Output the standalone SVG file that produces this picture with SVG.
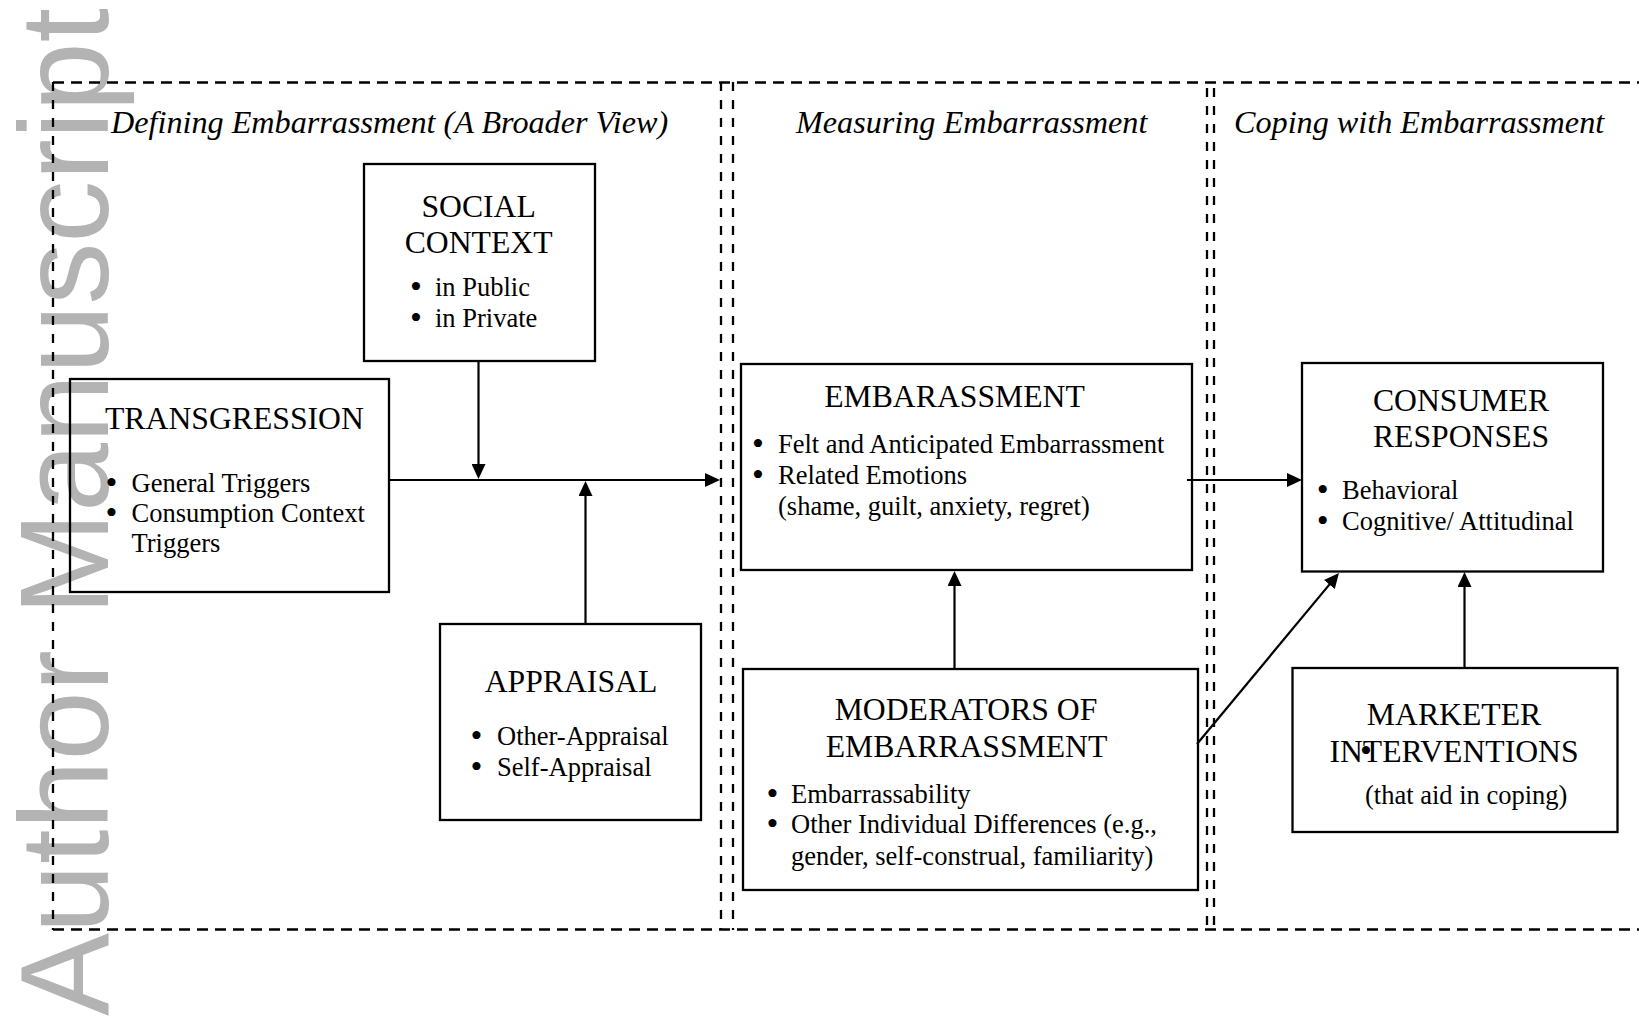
<svg xmlns="http://www.w3.org/2000/svg" width="1639" height="1017" viewBox="0 0 1639 1017">
<style>
  .wm { font-family: "Liberation Sans", Arial, sans-serif; font-size: 126px; fill: #b3b3b3; }
  .box { fill: none; stroke: #000; stroke-width: 2.3; }
  .hd { font-family: "Liberation Serif", "Times New Roman", serif; font-size: 31.7px; fill: #000; }
  .tt { font-family: "Liberation Serif", "Times New Roman", serif; font-size: 32.2px; font-style: italic; fill: #000; }
  .bt { font-family: "Liberation Serif", "Times New Roman", serif; font-size: 26.5px; fill: #000; }
  .bl { font-family: "Liberation Serif", "Times New Roman", serif; font-size: 34px; fill: #000; text-anchor: middle; }
  .c { text-anchor: middle; }
  .dh { stroke: #000; stroke-width: 2.3; stroke-dasharray: 11 7; fill: none; }
  .dv { stroke: #000; stroke-width: 2.3; stroke-dasharray: 9 9; fill: none; }
  .ln { stroke: #000; stroke-width: 2.2; fill: none; marker-end: url(#ah); }
</style>
<defs>
  <marker id="ah" markerUnits="userSpaceOnUse" markerWidth="15" markerHeight="14" refX="11" refY="7" orient="auto">
    <path d="M0,0 L15,7 L0,14 z" fill="#000"/>
  </marker>
</defs>
<rect width="1639" height="1017" fill="#fff"/>
<text class="wm" transform="translate(108,1016) rotate(-90)" textLength="1008" lengthAdjust="spacingAndGlyphs">Author Manuscript</text>

<g id="panels">
  <line class="dh" x1="53" y1="82.5" x2="1639" y2="82.5"/>
  <line class="dh" x1="53" y1="929.5" x2="1639" y2="929.5"/>
  <line class="dv" x1="53" y1="82" x2="53" y2="930"/>
  <line class="dv" x1="721" y1="82" x2="721" y2="930"/>
  <line class="dv" x1="733" y1="82" x2="733" y2="930"/>
  <line class="dv" x1="1207" y1="88" x2="1207" y2="930"/>
  <line class="dv" x1="1214" y1="88" x2="1214" y2="930"/>
  <text class="tt" x="111" y="133">Defining Embarrassment (A Broader View)</text>
  <text class="tt" x="796" y="133">Measuring Embarrassment</text>
  <text class="tt" x="1234" y="133">Coping with Embarrassment</text>
</g>

<g id="social-context">
  <rect class="box" x="364" y="164" width="231" height="197"/>
  <text class="hd c" x="478.6" y="217">SOCIAL</text>
  <text class="hd c" x="478.6" y="253">CONTEXT</text>
  <text class="bl" x="416" y="298">•</text>
  <text class="bt" x="435" y="296">in Public</text>
  <text class="bl" x="416" y="328.5">•</text>
  <text class="bt" x="435" y="326.5">in Private</text>
</g>

<g id="transgression">
  <rect class="box" x="70" y="379" width="319" height="213"/>
  <text class="hd" x="105" y="429">TRANSGRESSION</text>
  <text class="bl" x="111.4" y="493.7">•</text>
  <text class="bt" x="131.5" y="491.7">General Triggers</text>
  <text class="bl" x="111.4" y="523.7">•</text>
  <text class="bt" x="131.5" y="521.7">Consumption Context</text>
  <text class="bt" x="131.5" y="551.7">Triggers</text>
</g>

<g id="appraisal">
  <rect class="box" x="440" y="624" width="261" height="196"/>
  <text class="hd c" x="571" y="691.7">APPRAISAL</text>
  <text class="bl" x="476.5" y="747">•</text>
  <text class="bt" x="497" y="745">Other-Appraisal</text>
  <text class="bl" x="476.5" y="777.7">•</text>
  <text class="bt" x="497" y="775.7">Self-Appraisal</text>
</g>

<g id="embarassment">
  <rect class="box" x="741" y="364" width="451" height="206"/>
  <text class="hd c" x="954.5" y="407">EMBARASSMENT</text>
  <text class="bl" x="758" y="455">•</text>
  <text class="bt" x="778" y="453">Felt and Anticipated Embarrassment</text>
  <text class="bl" x="758" y="486">•</text>
  <text class="bt" x="778" y="484">Related Emotions</text>
  <text class="bt" x="778" y="515">(shame, guilt, anxiety, regret)</text>
</g>

<g id="moderators">
  <rect class="box" x="743" y="669" width="455" height="221"/>
  <text class="hd c" x="966" y="720">MODERATORS OF</text>
  <text class="hd c" x="966.5" y="756.7">EMBARRASSMENT</text>
  <text class="bl" x="772.4" y="804.7">•</text>
  <text class="bt" x="791" y="802.7">Embarrassability</text>
  <text class="bl" x="772.4" y="835">•</text>
  <text class="bt" x="791" y="833">Other Individual Differences (e.g.,</text>
  <text class="bt" x="791" y="865">gender, self-construal, familiarity)</text>
</g>

<g id="consumer-responses">
  <rect class="box" x="1302" y="363" width="301" height="208.5"/>
  <text class="hd c" x="1461" y="410.7">CONSUMER</text>
  <text class="hd c" x="1461" y="446.7">RESPONSES</text>
  <text class="bl" x="1322.8" y="501">•</text>
  <text class="bt" x="1342" y="499">Behavioral</text>
  <text class="bl" x="1322.8" y="532">•</text>
  <text class="bt" x="1342" y="530">Cognitive/ Attitudinal</text>
</g>

<g id="marketer-interventions">
  <rect class="box" x="1292.5" y="668" width="325" height="164"/>
  <text class="hd c" x="1454" y="725">MARKETER</text>
  <text class="hd c" x="1454" y="762.3">INTERVENTIONS</text>
  <text class="bl" x="1366" y="762">•</text>
  <text class="bt" x="1365" y="804">(that aid in coping)</text>
</g>

<g id="connectors">
  <line class="ln" x1="478.5" y1="361" x2="478.5" y2="475"/>
  <line class="ln" x1="389" y1="480" x2="716" y2="480"/>
  <line class="ln" x1="585.5" y1="624" x2="585.5" y2="485"/>
  <line class="ln" x1="1187" y1="480" x2="1298" y2="480"/>
  <line class="ln" x1="954.5" y1="669" x2="954.5" y2="575"/>
  <line class="ln" x1="1197" y1="744" x2="1336.4" y2="576.1"/>
  <line class="ln" x1="1464.5" y1="668" x2="1464.5" y2="576"/>
</g>
</svg>
